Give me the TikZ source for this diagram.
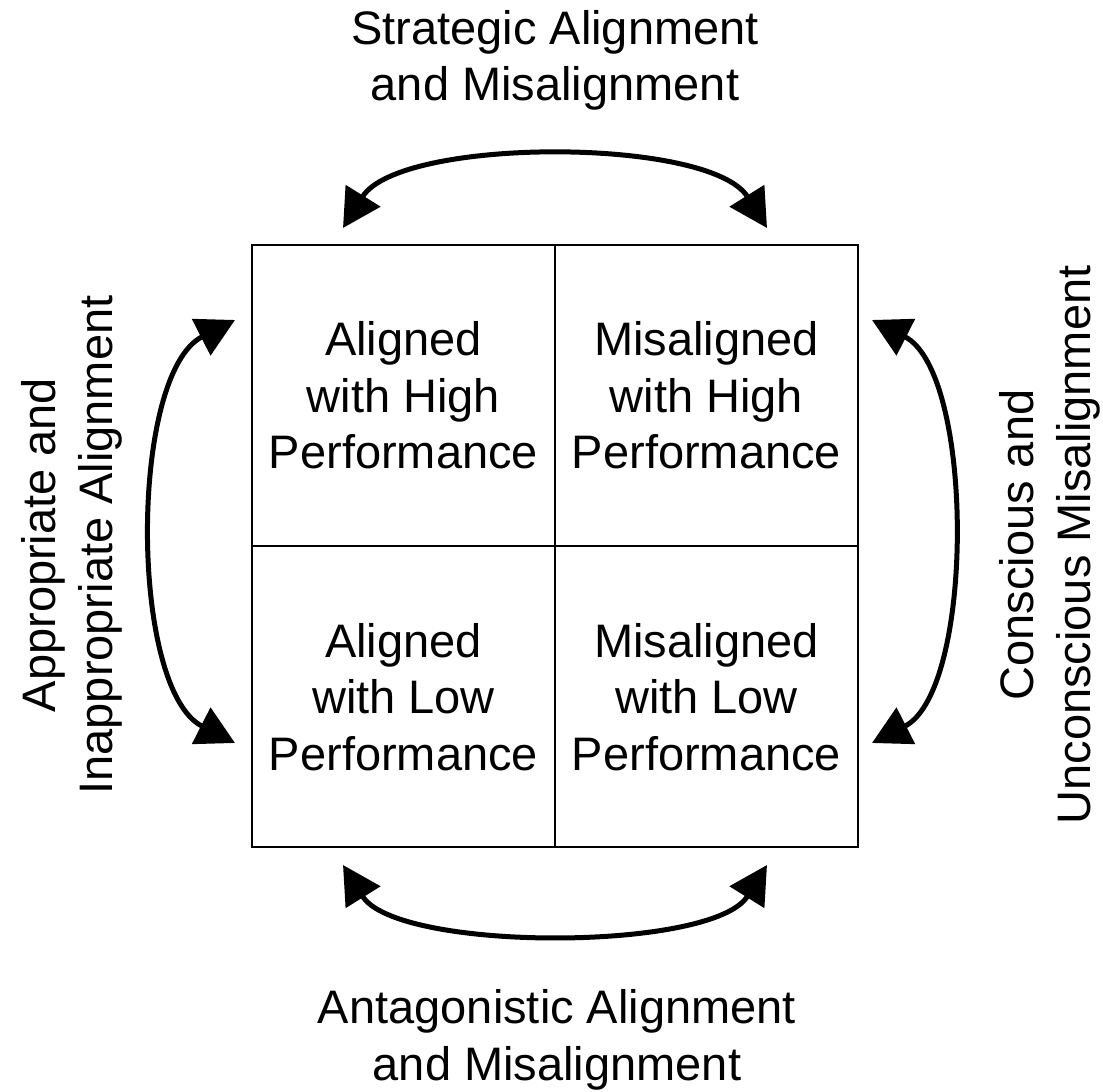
\documentclass[tikz,border=0pt]{standalone}
\usepackage{fontspec}
\setmainfont{Liberation Sans}
\usepackage{tikz}
\usetikzlibrary{arrows.meta}

\begin{document}
\begin{tikzpicture}[x=1pt, y=1pt,
        cell/.style={draw, line width=2pt, minimum width=303pt, minimum height=301pt,
                     inner sep=0pt, align=center, font=\fontsize{47}{56.4}\selectfont},
        lbl/.style={inner sep=0pt, align=center, font=\fontsize{47}{56.4}\selectfont},
        arc/.style={line width=5pt, {Triangle[length=38pt,width=40pt]}-{Triangle[length=38pt,width=40pt]}}]
                \useasboundingbox (0,0) rectangle (1103,1092);

                \node[cell] (ahigh) at (403.5, 696.5) {Aligned\\with High\\Performance};
                \node[cell] (mhigh) at (706.5, 696.5) {Misaligned\\with High\\Performance};
                \node[cell] (alow)  at (403.5, 395)   {Aligned\\with Low\\Performance};
                \node[cell] (mlow)  at (706.5, 395)   {Misaligned\\with Low\\Performance};

                \node[lbl] (strat) at (555, 1031.5) {Strategic Alignment\\and Misalignment};
                \node[lbl] (antag) at (557, 52) {Antagonistic Alignment\\and Misalignment};
                \node[lbl, rotate=90] (approp) at (72, 547) {Appropriate and\\Inappropriate Alignment};
                \node[lbl, rotate=90] (consc) at (1050, 547) {Conscious and\\Unconscious Misalignment};

                \coordinate (t1) at (343, 864);
                \coordinate (t2) at (767, 864);
                \coordinate (b1) at (343, 227);
                \coordinate (b2) at (767, 227);
                \coordinate (l1) at (235, 772);
                \coordinate (l2) at (235, 349);
                \coordinate (r1) at (872, 772);
                \coordinate (r2) at (872, 349);

                \draw[arc] (t1) to[out=58, in=122, looseness=0.65] (t2);
                \draw[arc] (b1) to[out=-58, in=-122, looseness=0.62] (b2);
                \draw[arc] (l1) to[out=207, in=153, looseness=0.72] (l2);
                \draw[arc] (r1) to[out=-27, in=27, looseness=0.7] (r2);
            \end{tikzpicture}
\end{document}
